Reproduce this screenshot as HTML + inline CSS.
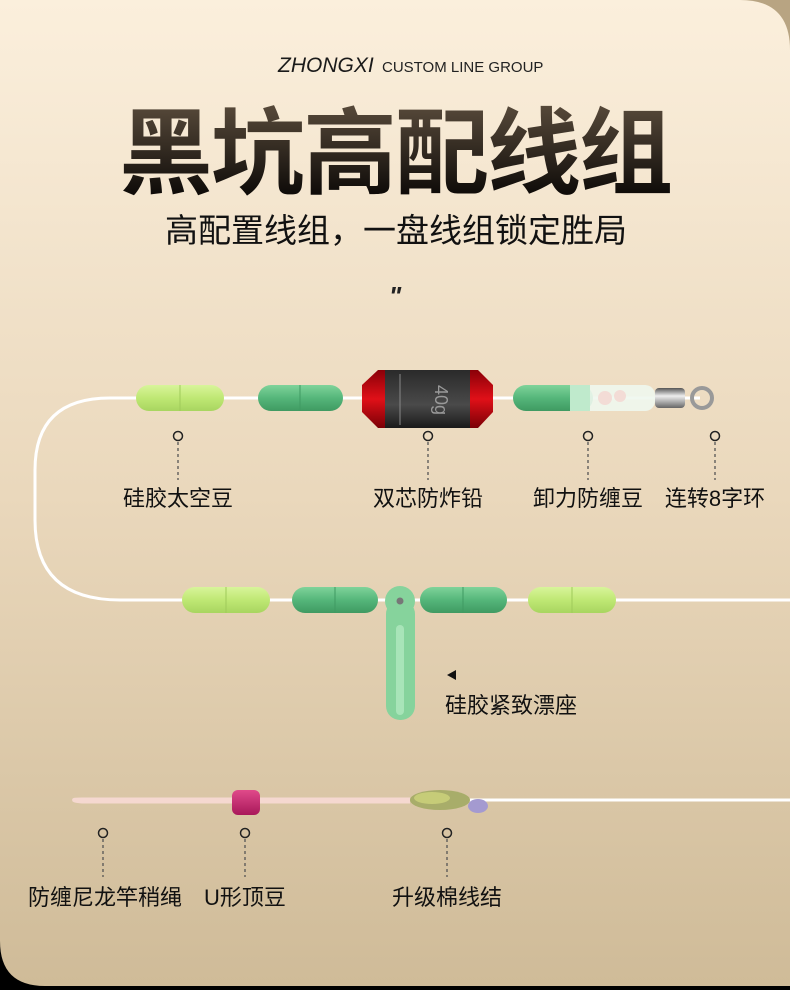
<!DOCTYPE html>
<html><head><meta charset="utf-8"><style>
html,body{margin:0;padding:0;width:790px;height:990px;overflow:hidden;background:#000}
svg{display:block}
text{font-family:"Liberation Sans","Noto Sans CJK SC",sans-serif}
</style></head><body>
<svg width="790" height="990" viewBox="0 0 790 990" xmlns="http://www.w3.org/2000/svg">
<defs>
<linearGradient id="bg" x1="0" y1="0" x2="0" y2="1">
<stop offset="0" stop-color="#fbefdc"/><stop offset="0.5" stop-color="#ead8bc"/><stop offset="1" stop-color="#cfbb98"/></linearGradient>
<linearGradient id="tg" x1="0" y1="0" x2="0" y2="1">
<stop offset="0" stop-color="#5a4c3c"/><stop offset="1" stop-color="#050302"/></linearGradient>
<linearGradient id="lg" x1="0" y1="0" x2="0" y2="1">
<stop offset="0" stop-color="#d8f59a"/><stop offset="0.5" stop-color="#bfe874"/><stop offset="1" stop-color="#a8d560"/></linearGradient>
<linearGradient id="dg" x1="0" y1="0" x2="0" y2="1">
<stop offset="0" stop-color="#7fd39a"/><stop offset="0.5" stop-color="#55b67a"/><stop offset="1" stop-color="#3f9a62"/></linearGradient>
<linearGradient id="blk" x1="0" y1="0" x2="0" y2="1">
<stop offset="0" stop-color="#2a2a2a"/><stop offset="0.6" stop-color="#4a4a4a"/><stop offset="1" stop-color="#1a1a1a"/></linearGradient>
<linearGradient id="red" x1="0" y1="0" x2="0" y2="1">
<stop offset="0" stop-color="#8a0008"/><stop offset="0.5" stop-color="#e01018"/><stop offset="1" stop-color="#7a0006"/></linearGradient>
<linearGradient id="pk" x1="0" y1="0" x2="0" y2="1">
<stop offset="0" stop-color="#e04a8a"/><stop offset="1" stop-color="#a8185a"/></linearGradient>
<linearGradient id="sv" x1="0" y1="0" x2="0" y2="1">
<stop offset="0" stop-color="#555"/><stop offset="0.4" stop-color="#eee"/><stop offset="1" stop-color="#666"/></linearGradient>
</defs>
<rect width="790" height="990" fill="#000"/>
<rect x="700" y="0" width="90" height="100" fill="#b8a482"/>
<path d="M0,0 H740 Q790,0 790,50 V986 H45 Q0,986 0,941 Z" fill="url(#bg)"/>

<text x="278" y="72" font-size="21" font-style="italic" fill="#1a1a1a">ZHONGXI</text>
<text x="382" y="72" font-size="15" fill="#222">CUSTOM LINE GROUP</text>
<text x="395" y="186" font-size="94" font-weight="bold" fill="url(#tg)" text-anchor="middle" letter-spacing="-2">黑坑高配线组</text>
<text x="396" y="242" font-size="33" fill="#111" text-anchor="middle">高配置线组，一盘线组锁定胜局</text>
<text x="395" y="305" font-size="26" font-style="italic" font-weight="bold" fill="#222" text-anchor="middle">"</text>

<path d="M700,398 H110 Q35,398 35,470 V520 Q35,600 120,600 H790" fill="none" stroke="#fff" stroke-width="3"/>
<rect x="136" y="385" width="88" height="26" rx="13" fill="url(#lg)"/><line x1="180" y1="385" x2="180" y2="411" stroke="#9fca5a"/>
<rect x="258" y="385" width="85" height="26" rx="13" fill="url(#dg)"/><line x1="300" y1="385" x2="300" y2="411" stroke="#3f9a62"/>
<path d="M362,385 L378,370 H478 L493,385 V412 L478,428 H378 L362,412 Z" fill="url(#red)"/>
<rect x="385" y="370" width="85" height="58" fill="url(#blk)"/>
<line x1="400" y1="374" x2="400" y2="425" stroke="#888"/>
<text x="435" y="400" font-size="18" fill="#999" transform="rotate(90 435 400)" text-anchor="middle">40g</text>
<rect x="513" y="385" width="80" height="26" rx="13" fill="url(#dg)"/>
<rect x="570" y="385" width="85" height="26" rx="10" fill="#eef7ee" opacity="0.9"/>
<rect x="570" y="385" width="20" height="26" fill="#bfeacc"/>
<circle cx="605" cy="398" r="7" fill="#f3dcd6"/><circle cx="620" cy="396" r="6" fill="#f3dcd6"/>
<rect x="655" y="388" width="30" height="20" rx="4" fill="url(#sv)"/>
<circle cx="702" cy="398" r="10" fill="none" stroke="#999" stroke-width="4"/>

<g stroke="#222" fill="none" stroke-width="1.5">
<circle cx="178" cy="436" r="4.5"/><circle cx="428" cy="436" r="4.5"/><circle cx="588" cy="436" r="4.5"/><circle cx="715" cy="436" r="4.5"/>
<circle cx="103" cy="833" r="4.5"/><circle cx="245" cy="833" r="4.5"/><circle cx="447" cy="833" r="4.5"/>
</g>
<g stroke="#555" stroke-width="1.3" stroke-dasharray="3,3">
<line x1="178" y1="442" x2="178" y2="480"/><line x1="428" y1="442" x2="428" y2="480"/><line x1="588" y1="442" x2="588" y2="480"/><line x1="715" y1="442" x2="715" y2="480"/>
<line x1="103" y1="839" x2="103" y2="877"/><line x1="245" y1="839" x2="245" y2="877"/><line x1="447" y1="839" x2="447" y2="877"/>
</g>
<g font-size="22" fill="#111" text-anchor="middle">
<text x="178" y="506">硅胶太空豆</text><text x="428" y="506">双芯防炸铅</text><text x="588" y="506">卸力防缠豆</text><text x="715" y="506">连转8字环</text>
<text x="105" y="905">防缠尼龙竿稍绳</text><text x="245" y="905">U形顶豆</text><text x="447" y="905">升级棉线结</text>
<text x="511" y="713">硅胶紧致漂座</text>
</g>

<rect x="182" y="587" width="88" height="26" rx="13" fill="url(#lg)"/><line x1="226" y1="587" x2="226" y2="613" stroke="#9fca5a"/>
<rect x="292" y="587" width="86" height="26" rx="13" fill="url(#dg)"/><line x1="335" y1="587" x2="335" y2="613" stroke="#3f9a62"/>
<rect x="420" y="587" width="87" height="26" rx="13" fill="url(#dg)"/><line x1="463" y1="587" x2="463" y2="613" stroke="#3f9a62"/>
<rect x="528" y="587" width="88" height="26" rx="13" fill="url(#lg)"/><line x1="572" y1="587" x2="572" y2="613" stroke="#9fca5a"/>
<rect x="386" y="600" width="29" height="120" rx="14" fill="#86d39c"/>
<rect x="396" y="625" width="8" height="90" rx="4" fill="#a8e4b8"/>
<circle cx="400" cy="601" r="15" fill="#86d39c"/>
<circle cx="400" cy="601" r="3.5" fill="#777"/>
<path d="M447,675 L456,670 V680 Z" fill="#111"/>

<line x1="420" y1="800" x2="790" y2="800" stroke="#fff" stroke-width="3"/>
<path d="M410,799 H82 Q72,799 74,800 Q72,801 82,802 H410" fill="none" stroke="#f5d8d0" stroke-width="3"/>
<rect x="232" y="790" width="28" height="25" rx="6" fill="url(#pk)"/>
<ellipse cx="440" cy="800" rx="30" ry="10" fill="#a8ad6a"/>
<ellipse cx="432" cy="798" rx="18" ry="6" fill="#c6cc78"/>
<ellipse cx="478" cy="806" rx="10" ry="7" fill="#a49ad0"/>
</svg>
</body></html>
